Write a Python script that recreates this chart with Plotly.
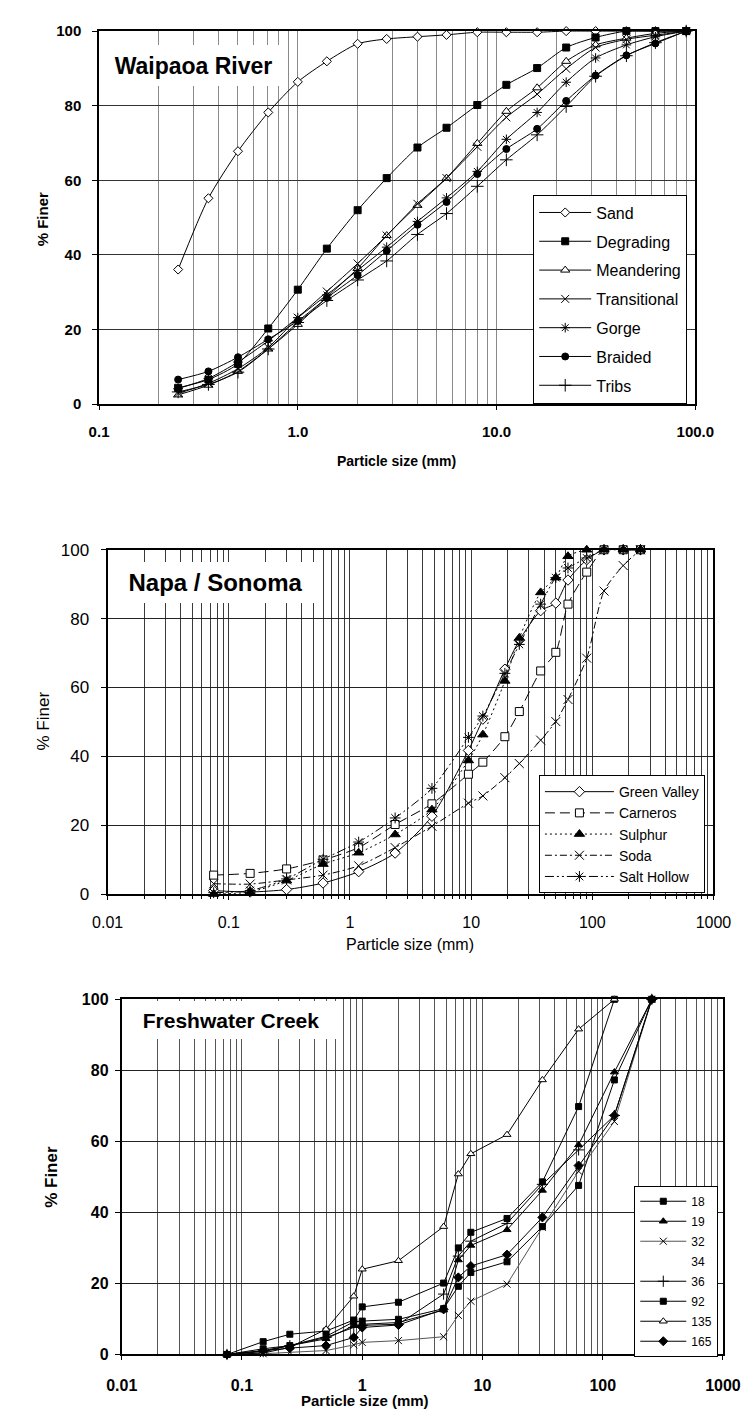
import plotly.graph_objects as go

# ---------------- data: Waipaoa River ----------------
wp_size = [0.25, 0.355, 0.5, 0.71, 1.0, 1.4, 2.0, 2.8, 4.0, 5.6, 8.0, 11.2, 16, 22.4, 31.5, 45, 63, 90]
wp_sand = [36.1, 55.2, 67.8, 78.2, 86.4, 91.9, 96.6, 97.9, 98.5, 99.0, 99.7, 99.7, 99.7, 100, 100, 100, 100, 100]
wp_degrading = [4.4, 6.6, 10.8, 20.3, 30.7, 41.7, 52.0, 60.6, 68.8, 74.1, 80.2, 85.6, 90.1, 95.6, 98.3, 100, 100, 100]
wp_meandering = [2.5, 5.1, 8.8, 14.8, 21.4, 28.7, 36.4, 45.2, 53.3, 60.6, 69.9, 78.5, 84.8, 91.9, 96.3, 98.1, 99.4, 100]
wp_transitional = [2.9, 5.6, 9.5, 15.2, 23.2, 30.2, 37.7, 45.2, 53.7, 60.6, 69.0, 76.9, 83.1, 89.9, 95.6, 97.8, 98.9, 100]
wp_gorge = [4.2, 6.9, 11.3, 17.0, 23.2, 29.3, 35.9, 42.1, 49.0, 55.3, 62.4, 71.0, 78.2, 86.3, 92.8, 96.3, 98.5, 100]
wp_braided = [6.6, 8.8, 12.6, 17.4, 22.3, 28.5, 34.6, 41.1, 48.1, 54.2, 61.7, 68.4, 73.8, 81.3, 88.1, 93.5, 96.7, 100]
wp_tribs = [3.3, 5.3, 8.6, 14.8, 21.9, 27.8, 33.3, 38.4, 45.5, 51.1, 58.4, 65.5, 72.2, 79.8, 87.9, 93.4, 96.9, 100]
wp_ticks = [0.1, 1, 10, 100]
wp_ticktext = ["0.1", "1.0", "10.0", "100.0"]

# ---------------- data: Napa / Sonoma ----------------
ns_size = [0.075, 0.15, 0.3, 0.6, 1.18, 2.36, 4.75, 9.5, 12.5, 19, 25, 37.5, 50, 63, 90, 125, 180, 250]
ns_green_valley = [1.0, 0.6, 1.3, 3.2, 6.5, 11.9, 22.6, 41.7, 50.8, 65.3, 73.7, 82.3, 84.5, 91.2, 97.1, 100, 100, 100]
ns_carneros = [5.5, 6.0, 7.3, 9.9, 13.5, 20.2, 26.2, 34.8, 38.3, 45.7, 53.0, 64.8, 70.2, 84.2, 93.5, 100, 100, 100]
ns_sulphur = [0.0, 0.6, 3.9, 8.7, 12.0, 17.3, 24.5, 38.8, 46.3, 61.9, 74.4, 87.6, 91.9, 98.1, 100, 100, 100, 100]
ns_soda = [3.0, 2.9, 4.1, 5.5, 8.2, 13.5, 19.7, 26.4, 28.5, 33.8, 37.9, 44.7, 50.1, 56.5, 68.5, 88.0, 95.4, 100]
ns_salt_hollow = [0.4, 1.0, 4.4, 10.1, 15.1, 22.1, 30.7, 45.5, 51.7, 64.1, 72.5, 84.2, 91.9, 94.7, 97.6, 100, 100, 100]
ns_ticks = [0.01, 0.1, 1, 10, 100, 1000]
ns_ticktext = ["0.01", "0.1", "1", "10", "100", "1000"]

# ---------------- data: Freshwater Creek ----------------
fc_size = [0.075, 0.15, 0.25, 0.5, 0.85, 1.0, 2.0, 4.75, 6.3, 8.0, 16, 31.5, 63, 125, 256]
fc_18 = [0, 3.6, 5.7, 6.6, 9.7, 13.4, 14.7, 20.1, 30.0, 34.4, 38.3, 48.6, 69.8, 100]
fc_19 = [0, 1.1, 2.5, 4.4, 8.1, 8.5, 9.0, 12.5, 26.6, 30.7, 35.1, 46.2, 59.0, 79.5, 100]
fc_32 = [0, 0.2, 0.6, 1.1, 2.7, 3.4, 3.9, 5.0, 11.0, 15.0, 19.8, 35.8, 51.6, 65.6, 100]
fc_34 = [None] * len(fc_size)  # series listed in the legend but not drawn
fc_36 = [0, 0.8, 2.5, 4.8, 7.6, 8.2, 8.5, 17.0, 27.7, 31.9, 36.9, 47.9, 57.6, 67.3, 100]
fc_92 = [0, 1.6, 2.5, 5.1, 9.2, 9.4, 9.9, 12.9, 19.2, 23.1, 26.1, 36.0, 47.6, 77.3, 100]
fc_135 = [0, 0.4, 2.0, 7.1, 16.4, 24.0, 26.4, 36.0, 50.8, 56.5, 61.9, 77.3, 91.6, 100]
fc_165 = [0, 1.1, 1.8, 2.5, 4.8, 7.6, 8.3, 12.7, 21.7, 24.9, 28.1, 38.6, 53.2, 67.3, 100]
fc_ticks = [0.01, 0.1, 1, 10, 100, 1000]
fc_ticktext = ["0.01", "0.1", "1", "10", "100", "1000"]

y_ticks = [0, 20, 40, 60, 80, 100]

# ---------------- layout helpers ----------------
W, H = 754, 1413
FONT = "Liberation Sans, Arial, sans-serif"


def fx(px):
    return px / W


def fy(py):
    return 1 - py / H


def minor_vals(lo_exp, hi_exp):
    return [m * 10 ** e for e in range(lo_exp, hi_exp) for m in range(2, 10)]


fig = go.Figure()


def add(ax, x, y, name, legend, symbol, fill="black", dash="solid", size=7,
        color="black", lw=1, shape="linear", mode="lines+markers"):
    fig.add_trace(go.Scatter(
        x=x[:len(y)], y=y, name=name, xaxis="x" + ax, yaxis="y" + ax,
        legend=legend, legendgroup=legend + name, mode=mode,
        line=dict(color=color, width=lw, dash=dash, shape=shape, smoothing=0.7),
        marker=dict(symbol=symbol, size=size, color=fill, line=dict(color=color, width=1)),
        cliponaxis=False,
    ))


# Panel 1
add("", wp_size, wp_sand, "Sand", "legend", "diamond", fill="white", size=7, shape="spline")
add("", wp_size, wp_degrading, "Degrading", "legend", "square", size=7, shape="spline")
add("", wp_size, wp_meandering, "Meandering", "legend", "triangle-up", fill="white", size=8, shape="spline")
add("", wp_size, wp_transitional, "Transitional", "legend", "x-thin-open", size=8, shape="spline")
add("", wp_size, wp_gorge, "Gorge", "legend", "asterisk-open", size=8, shape="spline")
add("", wp_size, wp_braided, "Braided", "legend", "circle", size=7, shape="spline")
add("", wp_size, wp_tribs, "Tribs", "legend", "cross-thin-open", size=9, shape="spline")

# Panel 2
add("2", ns_size, ns_green_valley, "Green Valley", "legend2", "diamond", fill="white", size=8, shape="spline")
add("2", ns_size, ns_carneros, "Carneros", "legend2", "square", fill="white", size=8, dash="10px,5px", shape="spline")
add("2", ns_size, ns_sulphur, "Sulphur", "legend2", "triangle-up", size=9, dash="2px,3px", shape="spline")
add("2", ns_size, ns_soda, "Soda", "legend2", "x-thin-open", size=9, dash="7px,3px,2px,3px", shape="spline")
add("2", ns_size, ns_salt_hollow, "Salt Hollow", "legend2", "asterisk-open", size=9, dash="9px,3px,2px,3px,2px,3px", shape="spline")

# Panel 3
add("3", fc_size, fc_18, "18", "legend3", "square", size=6)
add("3", fc_size, fc_19, "19", "legend3", "triangle-up", size=7)
add("3", fc_size, fc_32, "32", "legend3", "x-thin-open", size=7, color="#555555")
fig.add_trace(go.Scatter(x=fc_size, y=fc_34, name="34", xaxis="x3", yaxis="y3",
                         legend="legend3", legendgroup="legend334", mode="lines",
                         line=dict(width=0, color="rgba(0,0,0,0)")))
add("3", fc_size, fc_36, "36", "legend3", "cross-thin-open", size=8)
add("3", fc_size, fc_92, "92", "legend3", "square", size=6)
add("3", fc_size, fc_135, "135", "legend3", "triangle-up", fill="white", size=7)
add("3", fc_size, fc_165, "165", "legend3", "diamond", size=7)


def xaxis(dom, anchor, rng, tv, tt, lo, hi, bold, size, standoff, minor_ticks, lw, vgrid):
    return dict(
        type="log", domain=dom, anchor=anchor, range=rng,
        tickmode="array", tickvals=tv, ticktext=tt,
        ticks="outside", ticklen=4, tickcolor="black", tickwidth=1,
        ticklabelstandoff=standoff,
        tickfont=dict(family=FONT, size=size, color="black", weight="bold" if bold else "normal"),
        showgrid=True, gridcolor=vgrid, gridwidth=1,
        minor=dict(tickmode="array", tickvals=minor_vals(lo, hi), showgrid=True,
                   gridcolor=vgrid, gridwidth=1,
                   ticks="outside" if minor_ticks else "", ticklen=3, tickcolor="black"),
        showline=True, linecolor="black", linewidth=lw, mirror=True,
        zeroline=False, fixedrange=True,
    )


def yaxis(dom, anchor, bold, size, standoff, lw, hgrid):
    return dict(
        domain=dom, anchor=anchor, range=[0, 100],
        tickmode="array", tickvals=y_ticks,
        ticks="outside", ticklen=5, tickcolor="black", tickwidth=1,
        ticklabelstandoff=standoff,
        tickfont=dict(family=FONT, size=size, color="black", weight="bold" if bold else "normal"),
        showgrid=True, gridcolor=hgrid, gridwidth=1,
        showline=True, linecolor="black", linewidth=lw, mirror=True,
        zeroline=False, fixedrange=True,
    )


fig.update_layout(
    width=W, height=H,
    margin=dict(l=0, r=0, t=0, b=0),
    paper_bgcolor="white", plot_bgcolor="white",
    font=dict(family=FONT, color="black"),
    xaxis=xaxis([fx(78.7), fx(704)], "y", [-1, 2], wp_ticks, wp_ticktext, -1, 2, True, 15, 9, False, 1.5, "#8a8a8a"),
    yaxis=yaxis([fy(392.5), fy(14.3)], "x", True, 15, 8, 1.5, "#333333"),
    xaxis2=xaxis([fx(87.7), fx(723)], "y2", [-2, 3], ns_ticks, ns_ticktext, -2, 3, False, 16, 9, True, 2, "#3a3a3a"),
    yaxis2=yaxis([fy(889), fy(540)], "x2", False, 17, 8, 2, "#222222"),
    xaxis3=xaxis([fx(102.5), fx(733)], "y3", [-2, 3], fc_ticks, fc_ticktext, -2, 3, True, 16, 11, False, 2, "#555555"),
    yaxis3=yaxis([fy(1355.7), fy(995.7)], "x3", True, 16, 3, 2, "#222222"),
    legend=dict(x=fx(534), y=fy(180), xanchor="left", yanchor="top",
                bgcolor="white", bordercolor="black", borderwidth=1,
                font=dict(family=FONT, size=16, color="black"),
                itemwidth=52, tracegroupgap=5),
    legend2=dict(x=fx(540), y=fy(888), xanchor="left", yanchor="bottom",
                 bgcolor="white", bordercolor="black", borderwidth=1,
                 font=dict(family=FONT, size=14, color="black"),
                 itemwidth=69, tracegroupgap=0),
    legend3=dict(x=fx(640), y=fy(1358), xanchor="left", yanchor="bottom",
                 bgcolor="white", bordercolor="black", borderwidth=1,
                 font=dict(family=FONT, size=12, color="black"),
                 itemwidth=46, tracegroupgap=1),
    showlegend=True,
)

ann = [
    # panel titles (white boxes hide the grid behind them)
    dict(text="Waipaoa River", x=fx(85), y=fy(28), width=177, height=41,
         font=dict(size=23, weight="bold")),
    dict(text="Napa / Sonoma", x=fx(96), y=fy(552), width=199, height=41,
         font=dict(size=24, weight="bold")),
    dict(text="Freshwater Creek", x=fx(104), y=fy(997), width=216, height=38,
         font=dict(size=21, weight="bold")),
]
for a in ann:
    a.update(xref="paper", yref="paper", xanchor="left", yanchor="top",
             showarrow=False, bgcolor="white", borderpad=0, borderwidth=0, align="center")
    a["font"].update(family=FONT, color="black")

axis_titles = [
    dict(text="% Finer", x=fx(19), y=fy(205), textangle=-90, font=dict(size=15, weight="bold")),
    dict(text="Particle size (mm)", x=fx(391), y=fy(450), font=dict(size=14, weight="bold")),
    dict(text="% Finer", x=fx(20), y=fy(714), textangle=-90, font=dict(size=17)),
    dict(text="Particle size (mm)", x=fx(405), y=fy(940), font=dict(size=16)),
    dict(text="% Finer", x=fx(29), y=fy(1176), textangle=-90, font=dict(size=17, weight="bold")),
    dict(text="Particle size (mm)", x=fx(358), y=fy(1402), font=dict(size=15, weight="bold")),
]
for a in axis_titles:
    a.update(xref="paper", yref="paper", xanchor="center", yanchor="middle", showarrow=False)
    a["font"].update(family=FONT, color="black")

fig.update_layout(annotations=ann + axis_titles)

fig.write_html("out.html")
